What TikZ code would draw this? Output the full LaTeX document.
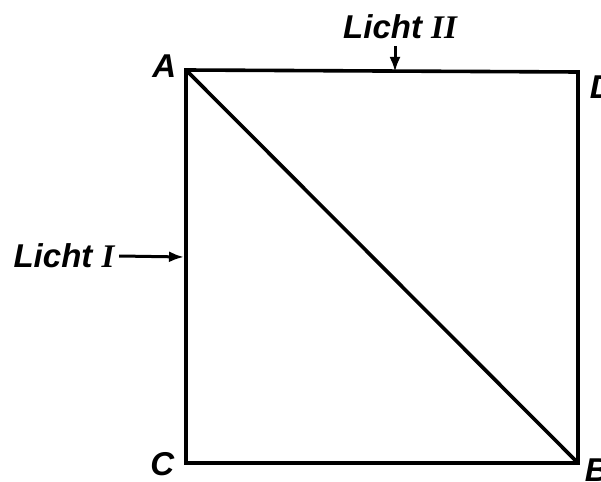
\documentclass[tikz,border=0pt]{standalone}
\usepackage{fontspec}
\setmainfont{Liberation Sans}
\newfontfamily\numfont{Liberation Serif}
\usetikzlibrary{arrows.meta,positioning}

\begin{document}
\begin{tikzpicture}[x=1pt, y=-1pt, line width=3.6pt, >={Latex[length=15pt,width=11pt]},
  lbl/.style={font=\fontsize{33}{33}\selectfont\bfseries\itshape, inner sep=0pt},
  ray/.style={line width=3pt, ->}]
  \useasboundingbox (0,0) rectangle (601,481);
  \coordinate (A) at (186,70);
  \coordinate (D) at (578,72);
  \coordinate (C) at (186,463);
  \coordinate (B) at (578,463);
  \draw[line join=miter] (A) -- (D) -- (B) -- (C) -- cycle;
  \draw (A) -- (B);
  \node[lbl, anchor=east] (la) at (178,66) {A};
  \node[lbl, anchor=west] (ld) at (588,87) {D};
  \node[lbl, anchor=east] (lc) at (176,464) {C};
  \node[lbl, anchor=west] (lb) at (583,470) {B};
  % light rays
  \coordinate (p2) at (395,72);
  \coordinate (p1) at (184,257);
  \node[lbl] (l2) at (400,27) {Licht {\numfont\itshape II}};
  \node[lbl] (l1) at (64,256) {Licht {\numfont\itshape I}};
  \draw[ray] (p2 |- l2.south) ++(0,5) -- (p2);
  \draw[ray] (l1.east) ++(3,0) -- (p1);
\end{tikzpicture}
\end{document}
